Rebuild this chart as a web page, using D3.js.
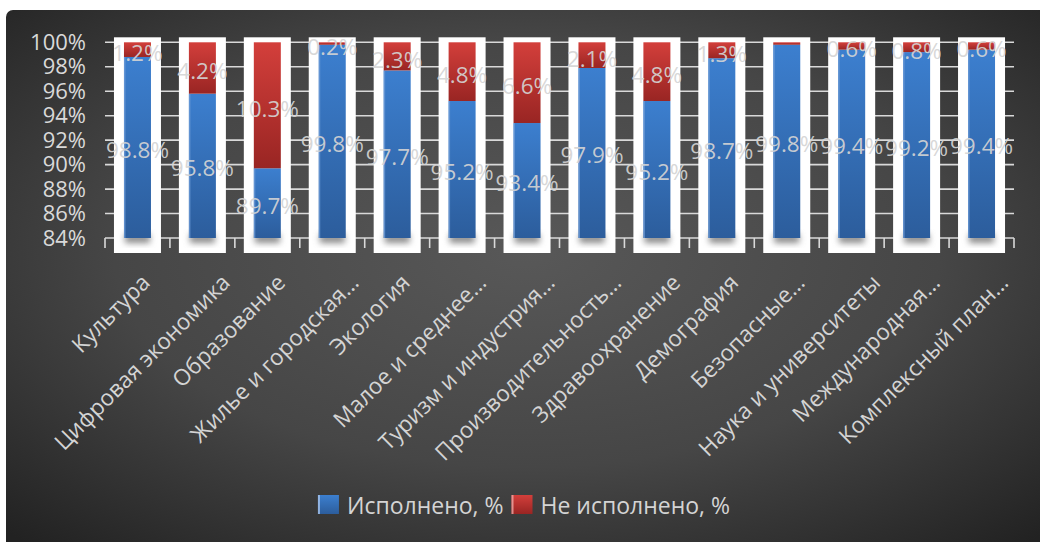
<!DOCTYPE html>
<html>
<head>
<meta charset="utf-8">
<script src="https://cdn.jsdelivr.net/npm/d3@7"></script>
<style>
  html, body { margin: 0; padding: 0; background: #ffffff; }
  svg { display: block; }
  text { font-family: "Open Sans", "Noto Sans", sans-serif; }
</style>
</head>
<body>
<svg id="chart" width="1040" height="542"></svg>
<script>
// National projects: share of plan completed vs. not completed
const categories = [
  "Культура", "Цифровая экономика", "Образование", "Жилье и городская…",
  "Экология", "Малое и среднее…", "Туризм и индустрия…", "Производительность…",
  "Здравоохранение", "Демография", "Безопасные…", "Наука и университеты",
  "Международная…", "Комплексный план…"
];
const doneValues    = [98.8, 95.8, 89.7, 99.8, 97.7, 95.2, 93.4, 97.9, 95.2, 98.7, 99.8, 99.4, 99.2, 99.4];
const notDoneValues = [1.2, 4.2, 10.3, 0.2, 2.3, 4.8, 6.6, 2.1, 4.8, 1.3, 0.2, 0.6, 0.8, 0.6];
const yTicks = [84, 86, 88, 90, 92, 94, 96, 98, 100];
const seriesNames = ["Исполнено, %", "Не исполнено, %"];
// labels left out where they do not fit on the bar
const unlabeledNotDone = ["Безопасные…"];

const W = 1040, H = 542;
const svg = d3.select("#chart");
const defs = svg.append("defs");

// backdrop gradient
const bg = defs.append("radialGradient").attr("id", "bgGrad")
  .attr("cx", 0.5).attr("cy", 0.45).attr("r", 0.72);
bg.append("stop").attr("offset", 0).attr("stop-color", "#585858");
bg.append("stop").attr("offset", 0.55).attr("stop-color", "#464646");
bg.append("stop").attr("offset", 1).attr("stop-color", "#222222");

function vGrad(id, top, bottom) {
  const g = defs.append("linearGradient").attr("id", id)
    .attr("x1", 0).attr("y1", 0).attr("x2", 0).attr("y2", 1);
  g.append("stop").attr("offset", 0).attr("stop-color", top);
  g.append("stop").attr("offset", 1).attr("stop-color", bottom);
}
vGrad("blueGrad", "#3c7fcf", "#2c5d9c");
vGrad("redGrad", "#d33f3b", "#992523");

const shadow = defs.append("filter").attr("id", "barShadow")
  .attr("x", "-50%").attr("y", "-50%").attr("width", "200%").attr("height", "200%");
shadow.append("feGaussianBlur").attr("stdDeviation", 3);

svg.append("rect")
  .attr("x", 6).attr("y", 10).attr("width", W - 6 + 8).attr("height", H - 10 + 8)
  .attr("rx", 7).attr("fill", "url(#bgGrad)");

const margin = { left: 105, right: 26, top: 42.3, bottom: 304 };
const x = d3.scaleBand().domain(categories)
  .range([margin.left, W - margin.right]).paddingInner(0).paddingOuter(0);
const y = d3.scaleLinear().domain([84, 100]).range([H - margin.bottom, margin.top]);

const plotLeft = x.range()[0], plotRight = x.range()[1];
const baseY = y(84);

// horizontal gridlines
svg.append("g").selectAll("line").data(yTicks).join("line")
  .attr("x1", plotLeft).attr("x2", plotRight)
  .attr("y1", d => y(d)).attr("y2", d => y(d))
  .attr("stroke", "#d9d9d9").attr("stroke-width", 1.6);

// category boundary ticks
const bounds = categories.map(c => x(c)).concat([plotRight]);
svg.append("g").selectAll("line").data(bounds).join("line")
  .attr("x1", d => d).attr("x2", d => d)
  .attr("y1", baseY).attr("y2", baseY + 10)
  .attr("stroke", "#d9d9d9").attr("stroke-width", 1.6);

// y axis labels
const yAxis = d3.axisLeft(y).tickValues(yTicks).tickFormat(d => d + "%").tickSize(0).tickPadding(0);
const yg = svg.append("g").attr("transform", `translate(${plotLeft - 19},0)`).call(yAxis);
yg.select(".domain").remove();
yg.selectAll("text").attr("fill", "#d9d9d9").style("font-size", "22px")
  .style("font-family", "'Open Sans', sans-serif");

const rows = categories.map((c, i) => ({ c, done: doneValues[i], notDone: notDoneValues[i] }));
const barW = 27, plateW = 47;

const bars = svg.append("g").selectAll("g").data(rows).join("g")
  .attr("transform", d => `translate(${x(d.c) + x.bandwidth() / 2},0)`);

// white plate behind each bar
bars.append("rect")
  .attr("x", -plateW / 2).attr("width", plateW)
  .attr("y", y(100) - 5).attr("height", baseY + 15 - (y(100) - 5))
  .attr("fill", "#ffffff");

// soft shadow under the bar
bars.append("rect")
  .attr("x", -barW / 2 + 1).attr("width", barW - 2)
  .attr("y", baseY - 4).attr("height", 9)
  .attr("fill", "#8a8a8a").attr("filter", "url(#barShadow)");

// completed segment
bars.append("rect")
  .attr("x", -barW / 2).attr("width", barW)
  .attr("y", d => y(d.done)).attr("height", d => baseY - y(d.done))
  .attr("fill", "url(#blueGrad)");
bars.append("rect")
  .attr("x", -barW / 2).attr("width", 1.5)
  .attr("y", d => y(d.done)).attr("height", d => baseY - y(d.done))
  .attr("fill", "#6c9ad6").attr("opacity", 0.8);

// not-completed segment
bars.append("rect")
  .attr("x", -barW / 2).attr("width", barW)
  .attr("y", d => y(Math.min(100, d.done + d.notDone)))
  .attr("height", d => y(d.done) - y(Math.min(100, d.done + d.notDone)))
  .attr("fill", "url(#redGrad)");

const fmt = v => v.toFixed(1) + "%";
const labelStyle = sel => sel
  .attr("text-anchor", "middle").attr("dominant-baseline", "central")
  .attr("fill", "#d4d4d4").attr("fill-opacity", 0.92).style("font-size", "22.5px");

bars.append("text").call(labelStyle)
  .attr("y", d => (y(d.done) + baseY) / 2 + 2)
  .text(d => fmt(d.done));

bars.filter(d => !unlabeledNotDone.includes(d.c)).append("text").call(labelStyle)
  .attr("y", d => (y(d.done) + y(Math.min(100, d.done + d.notDone))) / 2 + 3)
  .text(d => fmt(d.notDone));

// rotated category labels
const catG = svg.append("g");
catG.selectAll("text").data(categories).join("text")
  .attr("fill", "#d4d4d4").style("font-size", "22.5px")
  .attr("text-anchor", "end")
  .text(d => d)
  .each(function (d) {
    const L = this.getComputedTextLength();
    const ax = x(d) + x.bandwidth() / 2 + 3 + 0.11 * L;
    const ay = baseY + 46;
    d3.select(this).attr("transform", `translate(${ax},${ay}) rotate(-45)`);
  });

// legend
const legend = svg.append("g");
const fills = ["url(#blueGrad)", "url(#redGrad)"];
const edgeTints = ["#a9c6ee", "#f0a9a6"];
let cursor = 0;
seriesNames.forEach((name, i) => {
  const g = legend.append("g");
  g.append("rect").attr("x", 0).attr("y", -10).attr("width", 21).attr("height", 19)
    .attr("fill", fills[i]);
  g.append("rect").attr("x", 0).attr("y", -10).attr("width", 2).attr("height", 19)
    .attr("fill", edgeTints[i]).attr("opacity", 0.8);
  const t = g.append("text").attr("x", 29).attr("dominant-baseline", "central")
    .attr("fill", "#d4d4d4").style("font-size", "23px").text(name);
  const w = 29 + t.node().getComputedTextLength();
  g.attr("transform", `translate(${cursor},0)`);
  cursor += w + 8;
});
const legendW = cursor - 8;
legend.attr("transform", `translate(${524 - legendW / 2},${505})`);
</script>
</body>
</html>
